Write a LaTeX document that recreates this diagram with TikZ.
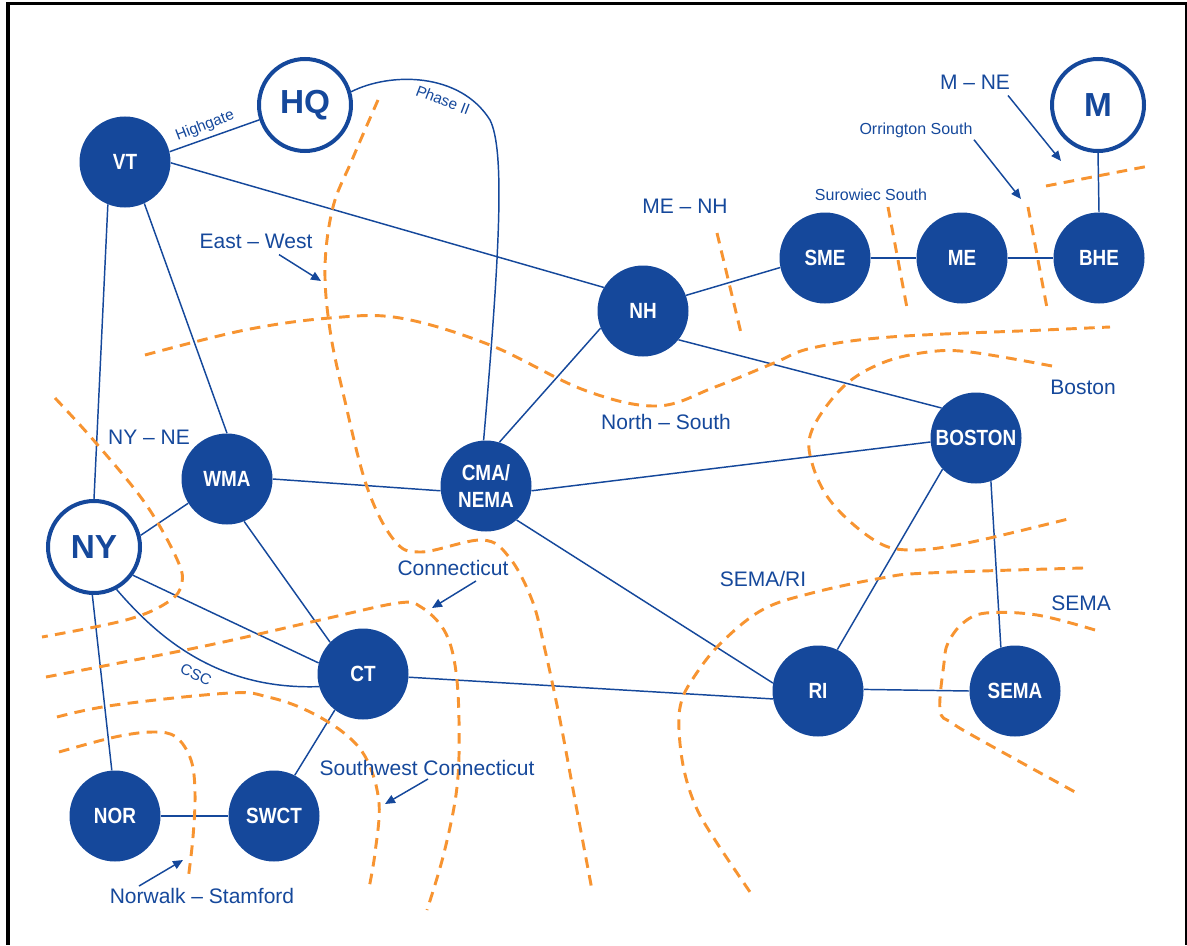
\documentclass[tikz,border=0pt]{standalone}
\usepackage{fontspec}
\setmainfont{Liberation Sans}
\newfontfamily\nodefont[FakeStretch=0.86]{Liberation Sans}
\usetikzlibrary{arrows.meta}
\definecolor{nblue}{RGB}{21,72,155}
\definecolor{dorange}{RGB}{247,148,49}
\pgfdeclarelayer{edgelayer}
\pgfsetlayers{edgelayer,main}
\begin{document}
\begin{tikzpicture}[x=0.75pt,y=-0.75pt,
  area/.style={circle,fill=nblue,minimum size=68.25pt,inner sep=0pt,text=white,
    font=\nodefont\bfseries\fontsize{16.5}{20}\selectfont,align=center},
  hub/.style={circle,draw=nblue,line width=3pt,fill=white,minimum size=69pt,inner sep=0pt,
    text=nblue,font=\bfseries\fontsize{25}{30}\selectfont},
  tie/.style={nblue,line width=1.1pt},
  iface/.style={dorange,line width=2.2pt,dash pattern=on 8pt off 5.5pt},
  lbl/.style={text=nblue,font=\fontsize{15.75}{18}\selectfont,inner sep=0pt},
  slbl/.style={text=nblue,font=\fontsize{12}{14}\selectfont,inner sep=0pt},
  tlbl/.style={text=nblue,font=\fontsize{11.5}{13}\selectfont,inner sep=0pt},
  ptr/.style={nblue,line width=1.1pt,-{Triangle[length=7.5pt,width=6.5pt]}}]
\useasboundingbox (0,0) rectangle (1187,945);
% frame
\fill[black] (6,2) rectangle (10,945);
\fill[black] (6,2) rectangle (1187,5);
\fill[black] (1185,2) rectangle (1187,945);

% nodes
\node[area] (vt) at (125,162) {VT};
\node[hub] (hq) at (305,105) {HQ};
\node[hub] (ny) at (94,547) {NY};
\node[area] (wma) at (227,479) {WMA};
\node[area] (cma) at (486,486) {CMA/\\NEMA};
\node[area] (nh) at (643,311) {NH};
\node[area] (sme) at (825,258) {SME};
\node[area] (me) at (962,258) {ME};
\node[area] (bhe) at (1099,258) {BHE};
\node[hub] (m) at (1098,105) {M};
\node[area] (boston) at (976,438) {BOSTON};
\node[area] (ct) at (363,674) {CT};
\node[area] (ri) at (818,691) {RI};
\node[area] (sema) at (1015,691) {SEMA};
\node[area] (nor) at (115,816) {NOR};
\node[area] (swct) at (274,816) {SWCT};

% labels
\node[lbl] (ewl) at (256,241) {East -- West};
\node[tlbl,rotate=21] (hgl) at (205,126) {Highgate};
\node[tlbl,rotate=-21] (phl) at (443,100) {Phase II};
\node[lbl] (menhl) at (685,206) {ME -- NH};
\node[slbl] (surl) at (871,195) {Surowiec South};
\node[slbl] (orrl) at (916,130) {Orrington South};
\node[lbl] (mnel) at (975,82) {M -- NE};
\node[lbl] (nynel) at (149,437) {NY -- NE};
\node[lbl] (nsl) at (666,422) {North -- South};
\node[lbl] (bosl) at (1083,387) {Boston};
\node[lbl] (semaril) at (763,579) {SEMA/RI};
\node[lbl] (semal) at (1081,603) {SEMA};
\node[lbl] (ctl) at (453,568) {Connecticut};
\node[lbl] (swctl) at (427,768) {Southwest Connecticut};
\node[lbl] (nsfl) at (202,896) {Norwalk -- Stamford};
\node[tlbl,rotate=-25] (cscl) at (196,675) {CSC};

% label pointers
\coordinate (ewp) at (321,281);
\coordinate (orrp) at (1021,199);
\coordinate (mnep) at (1061,161);
\coordinate (ctp) at (432,608);
\coordinate (swctp) at (385,804);
\coordinate (nsfp) at (183,860);
\draw[ptr] (ewl.south) ++(23,6) -- (ewp);
\draw[ptr] (orrl.south) ++(58,2) -- (orrp);
\draw[ptr] (mnel.south) ++(33,6) -- (mnep);
\draw[ptr] (ctl.south) ++(23,5) -- (ctp);
\draw[ptr] (swctl.south) ++(1,3) -- (swctp);
\draw[ptr] (nsfl.north) ++(-63,-2) -- (nsfp);

\begin{pgfonlayer}{edgelayer}
% connectors
\draw[tie] (vt.13) -- (hq.198);
\draw[tie] (hq.16) .. controls (390,72) and (460,72) .. (490,120)
  .. controls (505,150) and (500,250) .. (cma.93);
\draw[tie] (vt.-1) -- (nh.149);
\draw[tie] (vt.248) -- (ny.90);
\draw[tie] (vt.295) -- (wma.90);
\draw[tie] (ny.14) -- (wma.212);
\draw[tie] (wma.0) -- (cma.186);
\draw[tie] (wma.-68) -- (ct.136);
\draw[tie] (ny.-36) -- (ct.166);
\draw[tie] (ny.-62) .. controls (160,640) and (220,690) .. (ct.196);
\draw[tie] (ny.-92) -- (nor.94);
\draw[tie] (nor.0) -- (swct.180);
\draw[tie] (swct.63) -- (ct.232);
\draw[tie] (ct.-4) -- (ri.190);
\draw[tie] (cma.73) -- (nh.202);
\draw[tie] (cma.-6) -- (boston.185);
\draw[tie] (cma.-48) -- (ri.170);
\draw[tie] (nh.-39) -- (boston.139);
\draw[tie] (nh.20) -- (sme.192);
\draw[tie] (sme.0) -- (me.180);
\draw[tie] (me.0) -- (bhe.180);
\draw[tie] (bhe.north) -- (m.south);
\draw[tie] (boston.223) -- (ri.65);
\draw[tie] (boston.-71) -- (sema.108);
\draw[tie] (ri.2) -- (sema.180);

% interface boundaries
\draw[iface] plot[smooth,tension=0.6] coordinates {(378,100) (352,160) (333,207) (325,267) (330,330) (344,397) (367,487) (394,540) (421,552) (482,540) (509,557) (532,600) (545,650) (560,720) (575,800) (592,890)};
\draw[iface] plot[smooth,tension=0.6] coordinates {(145,355) (245,330) (330,318) (400,318) (490,345) (584,390) (657,406) (715,387) (774,363) (812,348) (890,337) (1044,330) (1110,327)};
\draw[iface] plot[smooth,tension=0.6] coordinates {(55,398) (96,443) (145,503) (176,557) (182,583) (168,602) (126,620) (42,637)};
\draw[iface] plot[smooth,tension=0.6] coordinates {(46,677) (200,647) (320,620) (398,603) (421,607) (444,630) (455,665) (459,720) (457,787) (444,853) (427,910)};
\draw[iface] plot[smooth,tension=0.6] coordinates {(57,717) (115,705) (230,693) (268,697) (306,710) (344,733) (367,760) (379,803) (375,853) (369,888)};
\draw[iface] plot[smooth,tension=0.6] coordinates {(59,752) (115,737) (153,732) (176,737) (191,760) (195,793) (193,837) (188,880)};
\draw[iface] (717,233) -- (741,333);
\draw[iface] (888,207) -- (907,308);
\draw[iface] (1028,207) -- (1047,308);
\draw[iface] (1046,186) -- (1149,166);
\draw[iface] plot[smooth,tension=0.6] coordinates {(1052,366) (970,352) (928,352) (882,363) (843,387) (812,430) (812,463) (832,503) (874,540) (909,550) (967,543) (1072,518)};
\draw[iface] plot[smooth,tension=0.6] coordinates {(1083,568) (928,573) (882,578) (812,593) (762,610) (719,645) (692,680) (681,703) (679,730) (684,770) (696,807) (715,840) (750,892)};
\draw[iface] plot[smooth,tension=0.6] coordinates {(1095,630) (1037,615) (986,613) (963,623) (948,643) (944,663) (940,710) (952,723) (986,743) (1075,792)};
\end{pgfonlayer}
\end{tikzpicture}
\end{document}
